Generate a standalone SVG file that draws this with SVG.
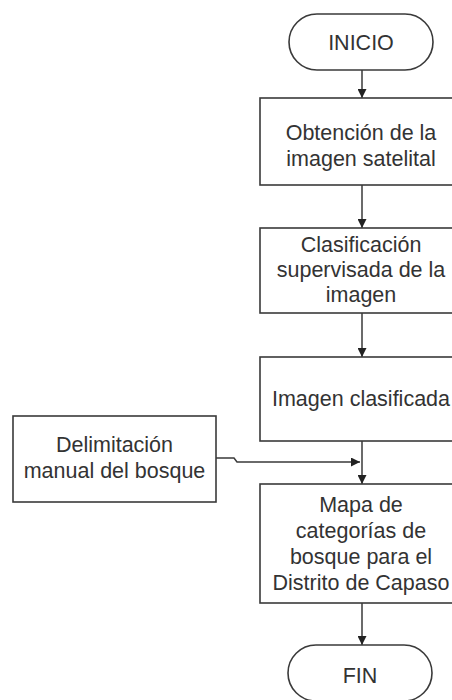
<svg xmlns="http://www.w3.org/2000/svg" width="452" height="700" viewBox="0 0 452 700">
<defs>
<style>
.box{fill:#fff;stroke:#3a3a3a;stroke-width:1.6}
.t{font-family:"Liberation Sans",Arial,sans-serif;font-size:21.5px;fill:#333;text-anchor:middle}
.ln{fill:none;stroke:#3a3a3a;stroke-width:1.5}
</style>
<marker id="ah" viewBox="0 0 10 10" refX="10" refY="5" markerWidth="10" markerHeight="9" markerUnits="userSpaceOnUse" orient="auto">
<path d="M0,0 L10,5 L0,10 Z" fill="#222"/>
</marker>
</defs>
<rect width="452" height="700" fill="#fff"/>
<g id="connectors">
<line class="ln" x1="362" y1="70" x2="362" y2="98" marker-end="url(#ah)"/>
<line class="ln" x1="362" y1="185" x2="362" y2="228" marker-end="url(#ah)"/>
<line class="ln" x1="362" y1="313" x2="362" y2="357" marker-end="url(#ah)"/>
<line class="ln" x1="362" y1="441" x2="362" y2="484" marker-end="url(#ah)"/>
<polyline class="ln" points="216,458 234,458 237,462 360,462" marker-end="url(#ah)"/>
<line class="ln" x1="362" y1="603" x2="362" y2="645" marker-end="url(#ah)"/>
</g>
<g id="inicio">
<rect class="box" x="289" y="14" width="144" height="56" rx="28"/>
<text class="t" x="361" y="50">INICIO</text>
</g>
<g id="obtencion">
<rect class="box" x="260" y="98" width="206" height="87"/>
<text class="t" x="361" y="140">Obtención de la</text>
<text class="t" x="361" y="166">imagen satelital</text>
</g>
<g id="clasificacion">
<rect class="box" x="260" y="228" width="206" height="85"/>
<text class="t" x="361" y="252">Clasificación</text>
<text class="t" x="361" y="277">supervisada de la</text>
<text class="t" x="361" y="302">imagen</text>
</g>
<g id="clasificada">
<rect class="box" x="260" y="357" width="206" height="84"/>
<text class="t" x="361" y="406">Imagen clasificada</text>
</g>
<g id="delimitacion">
<rect class="box" x="13" y="416" width="203" height="86"/>
<text class="t" x="114.5" y="452">Delimitación</text>
<text class="t" x="114.5" y="478">manual del bosque</text>
</g>
<g id="mapa">
<rect class="box" x="260" y="484" width="206" height="119"/>
<text class="t" x="361" y="512">Mapa de</text>
<text class="t" x="361" y="538">categorías de</text>
<text class="t" x="361" y="564">bosque para el</text>
<text class="t" x="361" y="590">Distrito de Capaso</text>
</g>
<g id="fin">
<rect class="box" x="288" y="645" width="144" height="56" rx="28"/>
<text class="t" x="360" y="683">FIN</text>
</g>
</svg>
